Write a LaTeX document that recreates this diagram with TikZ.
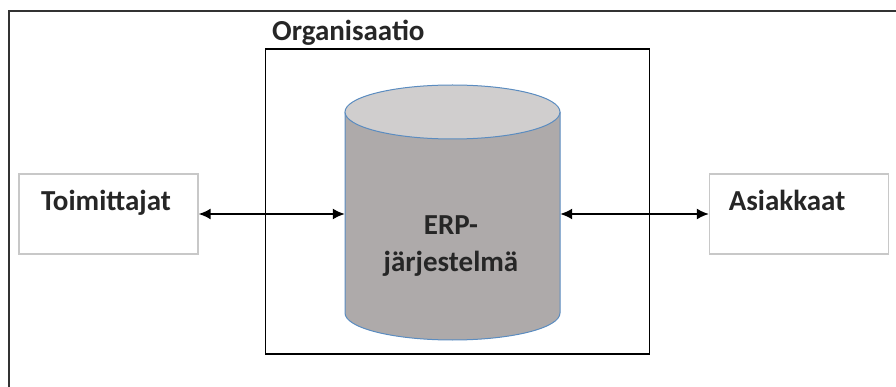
\documentclass[tikz,border=0pt]{standalone}
\usepackage{fontspec}
\setmainfont{Carlito}
\usetikzlibrary{arrows.meta}
\definecolor{cylside}{HTML}{AEAAAA}
\definecolor{cyltop}{HTML}{D0CECE}
\definecolor{cylline}{HTML}{5B8CC0}
\definecolor{boxline}{HTML}{C8C8C8}
\tikzstyle{sidebox}=[shape=rectangle, draw=boxline, line width=1.3pt, minimum width=179pt, minimum height=80pt, inner sep=0]
\tikzstyle{lbl}=[inner sep=0, text=black!85, font=\fontsize{29}{33}\selectfont\bfseries]
\tikzstyle{flow}=[line width=1.8pt, {Latex[length=12pt,width=11pt]}-{Latex[length=12pt,width=11pt]}]

\begin{document}
\begin{tikzpicture}[x=1pt,y=-1pt]
\useasboundingbox (0,0) rectangle (896,387);
\clip (0,0) rectangle (896,387);
\draw[line width=2pt, draw=black!80] (9,11) rectangle (920,420);
\node at (457.5,201.5)[draw, line width=1.6pt, minimum width=384pt, minimum height=305pt, inner sep=0](org){};
\node at (272,41)[lbl, anchor=base west](orglbl){Organisaatio};
% ERP cylinder
\fill[cylside] (345,112) -- (345,313) arc[start angle=180, end angle=0, x radius=107.5, y radius=27] -- (560,112) -- cycle;
\draw[cylline, line width=1pt] (345,112) -- (345,313) arc[start angle=180, end angle=0, x radius=107.5, y radius=27] -- (560,112);
\draw[cylline, line width=1pt, fill=cyltop] (452.5,112) ellipse[x radius=107.5, y radius=27];
\node at (452.5,214)[minimum width=215pt, minimum height=150pt, inner sep=0](erp){};
\node at (451,235)[lbl, anchor=base](erpa){ERP-};
\node at (451,271)[lbl, anchor=base](erpb){järjestelmä};
% side boxes
\node at (108.5,214)[sidebox](toim){};
\node at (106,211)[lbl, anchor=base](toimlbl){Toimittajat};
\node at (799,214)[sidebox](asi){};
\node at (787,211)[lbl, anchor=base](asilbl){Asiakkaat};
\draw[flow] (toim.east)--(erp.west);
\draw[flow] (erp.east)--(asi.west);
\end{tikzpicture}
\end{document}
